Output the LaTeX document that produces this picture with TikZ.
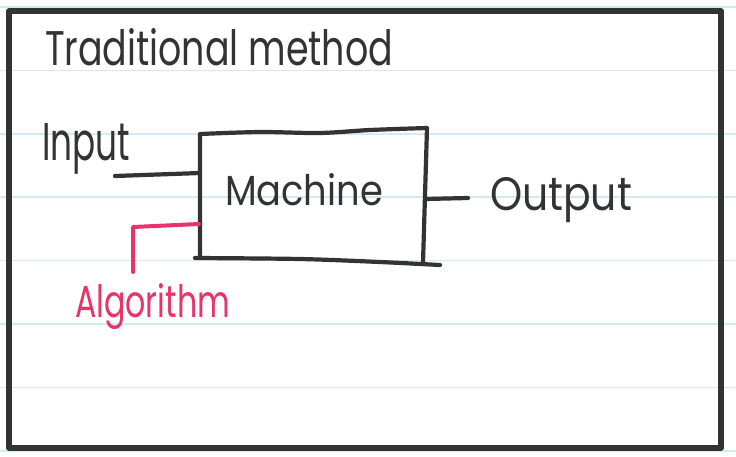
\documentclass[tikz,border=0pt]{standalone}
\usepackage{fontspec}
\setmainfont{Poppins}
\usepackage{graphicx}
\definecolor{inkgray}{HTML}{333333}
\definecolor{rulerblue}{HTML}{D2E9F6}
\definecolor{pinkink}{HTML}{E8346A}
% handwritten-style label: width, height above baseline, text
\newcommand{\handtext}[3]{\resizebox{#1pt}{#2pt}{#3}}
\begin{document}
\begin{tikzpicture}[x=1pt,y=-1pt,
  ink/.style={draw=inkgray, line width=4.2pt, line cap=round, line join=round},
  pinkline/.style={draw=pinkink, line width=4pt, line cap=round, line join=round},
  frameline/.style={draw=inkgray, line width=5.5pt, line join=round},
  ruled/.style={draw=rulerblue, line width=1.6pt},
  label/.style={inner sep=0pt, outer sep=0pt, anchor=base west, text=inkgray}
]
\useasboundingbox (0,0) rectangle (736,456);
\fill[white] (0,0) rectangle (736,456);

% ruled paper
\foreach \yy in {7,70.4,133.8,197.2,260.6,324,387.4,450.8}
  \draw[ruled] (0,\yy) -- (736,\yy);

% outer frame
\draw[frameline] (9,11) rectangle (721,448);

% title
\node[label] (title) at (45,65) {\handtext{348}{37}{Traditional method}};

% machine box, drawn freehand
\coordinate (boxTL) at (200,134);
\coordinate (boxTR) at (427,128);
\coordinate (boxBR) at (423,263);
\coordinate (boxBL) at (200,258);
\coordinate (boxIn) at (200,173);
\coordinate (boxAlg) at (199,224);
\coordinate (boxOut) at (425,199);
\draw[ink] (boxBL) -- (boxTL)
  plot[smooth] coordinates {(200,134) (260,132) (320,133) (370,130) (427,128)}
  -- (boxBR);
\draw[ink] plot[smooth] coordinates {(195,258) (300,259) (380,262) (440,265)};
\node[label] (machine) at (225,205) {\handtext{158}{32}{Machine}};

% input
\node[label] (input) at (42,160) {\handtext{88}{37}{Input}};
\coordinate (inStart) at (115,176);
\draw[ink] (inStart) -- (boxIn);

% output
\node[label] (output) at (490,210) {\handtext{142}{33}{Output}};
\coordinate (outEnd) at (468,198);
\draw[ink] (boxOut) -- (outEnd);

% algorithm
\node[label, text=pinkink] (algorithm) at (75,317) {\handtext{155}{34}{Algorithm}};
\coordinate (algStart) at (133,272);
\coordinate (algCorner) at (133,227);
\draw[pinkline] (algStart) -- (algCorner) -- (boxAlg);
\end{tikzpicture}
\end{document}
